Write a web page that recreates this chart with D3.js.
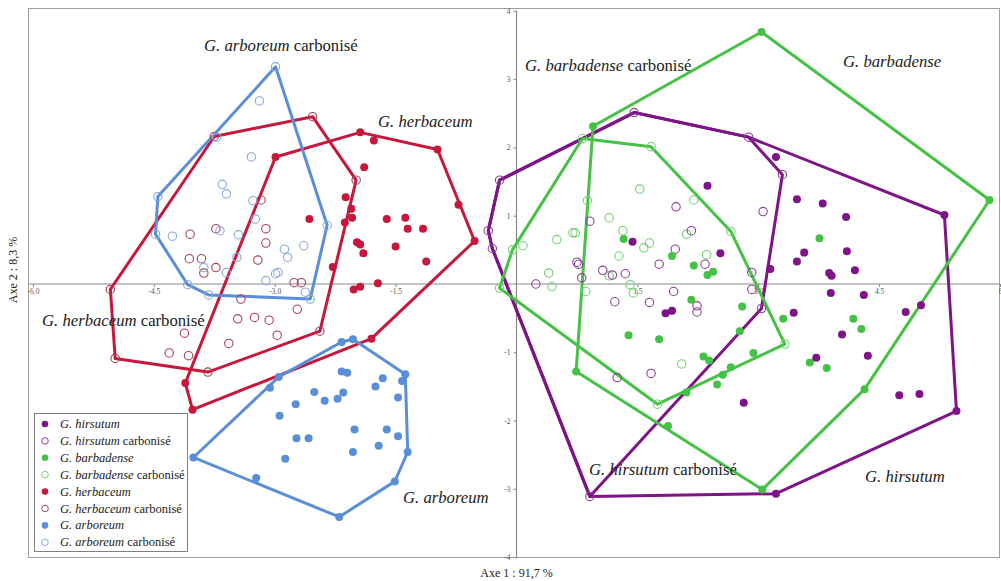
<!DOCTYPE html>
<html><head><meta charset="utf-8">
<script src="https://cdn.jsdelivr.net/npm/d3@7"></script>
<style>body{margin:0;background:#fff}svg{display:block}</style>
</head><body><svg id="chart" width="1001" height="581"></svg>
<script>
// ---- data (Axe 1, Axe 2) ----
const hirsutum = [[3.22,1.86],[2.37,1.44],[3.48,1.24],[3.80,1.18],[4.09,0.98],[5.31,1.01],[1.44,0.62],[2.53,0.45],[3.57,0.46],[3.48,0.33],[4.10,0.48],[4.20,0.20],[3.15,0.22],[3.88,0.16],[3.91,0.12],[3.90,-0.13],[4.31,-0.16],[1.85,-0.43],[1.93,-0.39],[3.44,-0.42],[4.83,-0.41],[5.02,-0.31],[4.04,-0.74],[4.36,-1.05],[3.72,-1.08],[4.75,-1.63],[5.00,-1.61],[2.82,-1.74],[5.46,-1.86],[3.22,-3.07]];
const hirsutumCarb = [[1.46,2.51],[2.88,2.15],[3.30,1.60],[-0.21,1.52],[-0.35,0.78],[-0.30,0.52],[1.98,1.13],[3.06,1.06],[0.91,0.92],[2.17,0.78],[1.97,0.51],[0.75,0.32],[0.77,0.29],[1.77,0.29],[2.34,0.29],[1.07,0.20],[1.19,0.13],[1.35,0.15],[0.81,0.09],[0.24,0.00],[1.95,-0.11],[1.22,-0.26],[1.65,-0.27],[2.24,-0.32],[2.24,-0.41],[2.92,0.17],[2.92,-0.08],[3.04,-0.36],[1.25,-1.37],[1.67,-1.31],[0.91,-3.11]];
const barbadense = [[0.95,2.31],[3.04,3.69],[5.87,1.23],[3.76,0.67],[1.33,0.66],[1.93,0.41],[2.20,0.27],[2.37,0.13],[2.44,0.18],[2.17,-0.23],[2.80,-0.33],[3.31,-0.51],[4.18,-0.51],[4.28,-0.66],[1.39,-0.75],[1.77,-0.81],[2.77,-0.69],[2.94,-1.01],[3.64,-1.15],[3.85,-1.23],[0.74,-1.28],[2.32,-1.06],[2.39,-1.12],[2.66,-1.22],[2.56,-1.33],[2.49,-1.47],[2.11,-1.59],[1.88,-2.08],[4.32,-1.54],[3.05,-3.01]];
const barbadenseCarb = [[0.82,2.13],[1.67,2.01],[1.53,1.39],[0.88,1.22],[2.20,1.23],[1.15,0.97],[1.32,0.78],[0.50,0.65],[0.70,0.75],[0.73,0.75],[2.11,0.73],[2.66,0.77],[0.08,0.56],[-0.05,0.50],[1.65,0.60],[1.58,0.53],[1.27,0.41],[2.36,0.43],[0.40,0.16],[0.44,-0.04],[-0.21,-0.06],[0.86,-0.11],[1.15,0.12],[1.41,-0.01],[1.45,-0.13],[2.05,-1.17],[1.75,-1.76],[3.33,-0.88]];
const herbaceum = [[-2.99,1.86],[-1.94,2.22],[-1.77,2.10],[-0.98,1.97],[-1.89,1.71],[-2.12,1.27],[-2.05,1.10],[-2.04,0.97],[-2.13,0.90],[-2.57,0.95],[-1.61,0.95],[-1.38,0.97],[-1.35,0.81],[-1.16,0.81],[-0.72,1.16],[-0.52,0.63],[-1.98,0.61],[-1.94,0.58],[-1.90,0.45],[-1.50,0.55],[-1.12,0.33],[-2.28,0.25],[-2.02,-0.08],[-1.94,-0.04],[-1.72,0.01],[-1.80,-0.80],[-4.02,-1.84],[-4.11,-1.45]];
const herbaceumCarb = [[-3.75,2.16],[-2.53,2.45],[-1.99,1.52],[-4.05,0.73],[-3.73,0.81],[-3.11,0.81],[-3.17,1.23],[-3.11,0.60],[-4.06,0.37],[-3.91,0.37],[-3.88,0.16],[-3.73,0.24],[-3.21,0.35],[-2.76,0.02],[-2.67,0.02],[-3.42,-0.22],[-2.72,-0.37],[-3.46,-0.51],[-3.25,-0.49],[-3.07,-0.53],[-4.12,-0.72],[-2.97,-0.75],[-3.57,-0.87],[-4.31,-1.01],[-4.07,-1.05],[-5.04,-0.08],[-4.98,-1.09],[-3.83,-1.29],[-2.44,-0.69]];
const arboreum = [[-2.17,-0.85],[-2.03,-0.81],[-1.38,-1.32],[-1.42,-1.42],[-2.95,-1.36],[-3.06,-1.52],[-2.17,-1.28],[-2.10,-1.30],[-1.66,-1.38],[-1.75,-1.50],[-2.51,-1.58],[-2.15,-1.59],[-2.22,-1.68],[-2.38,-1.71],[-2.74,-1.76],[-1.47,-1.66],[-2.94,-1.93],[-2.01,-2.13],[-1.61,-2.13],[-1.47,-2.23],[-2.73,-2.26],[-2.58,-2.26],[-1.71,-2.37],[-2.03,-2.46],[-1.35,-2.46],[-2.87,-2.56],[-4.01,-2.54],[-3.23,-2.84],[-1.51,-2.89],[-2.20,-3.41]];
const arboreumCarb = [[-2.99,3.18],[-3.19,2.68],[-3.72,2.15],[-3.29,1.86],[-4.45,1.28],[-3.65,1.46],[-3.60,1.32],[-3.27,1.22],[-3.24,0.95],[-2.35,0.86],[-4.48,0.73],[-4.27,0.70],[-3.68,0.78],[-3.45,0.72],[-2.88,0.51],[-2.84,0.39],[-2.64,0.56],[-3.47,0.39],[-3.88,0.24],[-3.60,0.17],[-3.11,0.05],[-2.99,0.15],[-2.96,0.17],[-4.08,-0.01],[-3.82,-0.16],[-2.62,-0.12],[-2.56,-0.22]];

const xTicks = [-6, -4.5, -3, -1.5, 1.5, 3, 4.5, 6];
const xTickLabels = ["-6.0", "-4.5", "-3.0", "-1.5", "1.5", "3.0", "4.5", "6"];
const yTicks = [-4, -3, -2, -1, 1, 2, 3, 4];
const yTickLabels = ["-4", "-3", "-2", "-1", "1", "2", "3", "4"];
const axisTitles = ["Axe 1 : 91,7 %", "Axe 2 : 8,3 %"];

const legendNames = ["G. hirsutum", "G. hirsutum carbonisé", "G. barbadense", "G. barbadense carbonisé",
  "G. herbaceum", "G. herbaceum carbonisé", "G. arboreum", "G. arboreum carbonisé"];

// ---- styles ----
const C = {
  hir: "#7e1486", hirC: "#8b3f97",
  bar: "#45c245", barC: "#72d172",
  her: "#c8173c", herC: "#a8405a",
  arb: "#5b8ed8", arbC: "#86abdc"
};

const svg = d3.select("#chart");
const x = d3.scaleLinear().domain([-6, 6]).range([33, 1000]);
const y = d3.scaleLinear().domain([-4, 4]).range([557.2, 10.8]);
const serif = "Liberation Serif";

// frame
svg.append("rect").attr("x", 28.5).attr("y", 8.5).attr("width", 971).attr("height", 549)
  .attr("fill", "none").attr("stroke", "#a0a0a0").attr("stroke-width", 1);

// axes through origin
svg.append("line").attr("x1", 28).attr("x2", 1000).attr("y1", y(0)).attr("y2", y(0))
  .attr("stroke", "#8a8a8a").attr("stroke-width", 1.2);
svg.append("line").attr("x1", x(0)).attr("x2", x(0)).attr("y1", y(4)).attr("y2", y(-4))
  .attr("stroke", "#8a8a8a").attr("stroke-width", 1.2);

const xAxis = d3.axisBottom(x).tickValues(xTicks).tickSize(3)
  .tickFormat((d, i) => xTickLabels[i]);
const gx = svg.append("g").attr("transform", `translate(0,${y(0)})`).call(xAxis);
gx.select(".domain").remove();
gx.selectAll("line").attr("stroke", "#8a8a8a");
gx.selectAll("text").attr("font-family", serif).attr("font-size", 7.5).attr("fill", "#555").attr("dy", "0.5em");

const yAxis = d3.axisLeft(y).tickValues(yTicks).tickSize(3)
  .tickFormat((d, i) => yTickLabels[i]);
const gy = svg.append("g").attr("transform", `translate(${x(0)},0)`).call(yAxis);
gy.select(".domain").remove();
gy.selectAll("line").attr("stroke", "#8a8a8a");
gy.selectAll("text").attr("font-family", serif).attr("font-size", 7.5).attr("fill", "#555");

// hulls
const hulls = [
  { pts: hirsutum.concat(hirsutumCarb), color: C.hir },
  { pts: hirsutumCarb, color: C.hir },
  { pts: barbadense, color: C.bar },
  { pts: barbadenseCarb, color: C.bar },
  { pts: herbaceum, color: C.her },
  { pts: herbaceumCarb, color: C.her },
  { pts: arboreum, color: C.arb },
  { pts: arboreumCarb, color: C.arb }
];
hulls.forEach(h => {
  const hull = d3.polygonHull(h.pts.map(p => [x(p[0]), y(p[1])]));
  svg.append("path").attr("d", "M" + hull.join("L") + "Z")
    .attr("fill", "none").attr("stroke", h.color).attr("stroke-width", 3)
    .attr("stroke-linejoin", "round");
});

// points
const series = [
  { pts: herbaceumCarb, color: C.herC, open: true },
  { pts: arboreumCarb, color: C.arbC, open: true },
  { pts: barbadenseCarb, color: C.barC, open: true },
  { pts: hirsutumCarb, color: C.hirC, open: true },
  { pts: herbaceum, color: C.her, open: false },
  { pts: arboreum, color: C.arb, open: false },
  { pts: barbadense, color: C.bar, open: false },
  { pts: hirsutum, color: C.hir, open: false }
];
series.forEach(s => {
  svg.append("g").selectAll("circle").data(s.pts).join("circle")
    .attr("cx", d => x(d[0])).attr("cy", d => y(d[1]))
    .attr("r", s.open ? 4.2 : 4)
    .attr("fill", s.open ? "none" : s.color)
    .attr("stroke", s.color).attr("stroke-width", s.open ? 1.1 : 0);
});

// group labels
function label(tx, ty, sp, carb, size) {
  const t = svg.append("text").attr("x", tx).attr("y", ty)
    .attr("font-family", serif).attr("font-size", size).attr("fill", "#222");
  t.append("tspan").attr("font-style", "italic").text(sp);
  if (carb) t.append("tspan").text(" carbonisé");
}
const LS = 16.7;
label(204, 51, "G. arboreum", true, LS);
label(378, 127, "G. herbaceum", false, LS);
label(42, 326, "G. herbaceum", true, LS);
label(403, 503, "G. arboreum", false, LS);
label(525, 71, "G. barbadense", true, LS);
label(843, 67, "G. barbadense", false, LS);
label(589, 475, "G. hirsutum", true, LS);
label(865, 482, "G. hirsutum", false, LS);

// axis titles
svg.append("text").attr("x", x(0)).attr("y", 577).attr("text-anchor", "middle")
  .attr("font-family", serif).attr("font-size", 12).attr("fill", "#222").text(axisTitles[0]);
svg.append("text").attr("transform", `translate(17,${y(0) - 14}) rotate(-90)`).attr("text-anchor", "middle")
  .attr("font-family", serif).attr("font-size", 12).attr("fill", "#222").text(axisTitles[1]);

// legend
const lg = svg.append("g");
lg.append("rect").attr("x", 34.5).attr("y", 413.5).attr("width", 153).attr("height", 138)
  .attr("fill", "#fff").attr("stroke", "#808080").attr("stroke-width", 1);
const legendStyles = [C.hir, C.hirC, C.bar, C.barC, C.her, C.herC, C.arb, C.arbC];
const ly = d3.scaleLinear().domain([0, 7]).range([424, 542.3]);
legendNames.forEach((name, i) => {
  const open = name.endsWith("carbonisé");
  lg.append("circle").attr("cx", 45).attr("cy", ly(i)).attr("r", 3.3)
    .attr("fill", open ? "none" : legendStyles[i]).attr("stroke", legendStyles[i])
    .attr("stroke-width", open ? 1 : 0);
  const t = lg.append("text").attr("x", 60).attr("y", ly(i) + 4)
    .attr("font-family", serif).attr("font-size", 12.5).attr("fill", "#222");
  const sp = name.replace(" carbonisé", "");
  t.append("tspan").attr("font-style", "italic").text(sp);
  if (open) t.append("tspan").text(" carbonisé");
});
</script>
</body></html>
